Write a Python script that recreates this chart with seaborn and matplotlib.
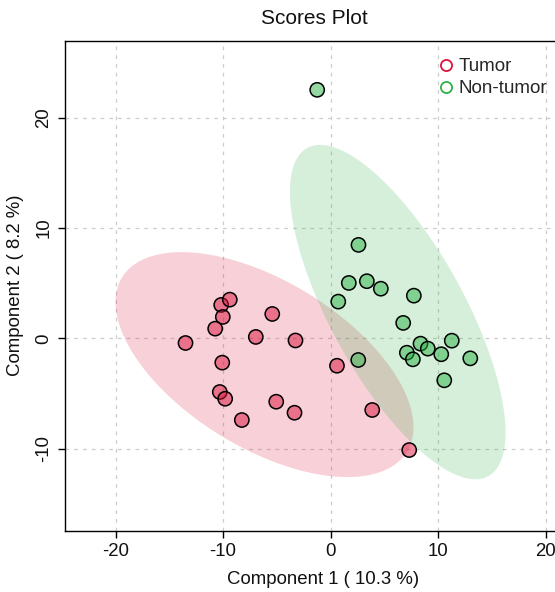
import numpy as np
import pandas as pd
import matplotlib
matplotlib.use("Agg")
import matplotlib.pyplot as plt
import seaborn as sns
from matplotlib.lines import Line2D

# scores
tumor_x = [-13.49, -10.17, -9.37, -10.02, -10.73, -6.95, -5.42, -3.26, -10.07,
           -10.30, -9.80, -8.25, -5.05, -3.35, 0.60, 3.88, 7.32]
tumor_y = [-0.41, 3.04, 3.52, 1.95, 0.89, 0.14, 2.22, -0.18, -2.19,
           -4.85, -5.46, -7.39, -5.73, -6.73, -2.47, -6.48, -10.11]
normal_x = [2.60, 1.70, 3.38, 4.68, 7.75, 0.72, 6.76, 8.37, 9.05,
            11.28, 7.10, 7.66, 10.30, 13.00, 2.58, 10.58, -1.24]
normal_y = [8.48, 5.03, 5.19, 4.51, 3.88, 3.34, 1.41, -0.47, -0.92,
            -0.20, -1.29, -1.89, -1.43, -1.80, -1.95, -3.79, 22.53]

groups = ["Tumor", "Non-tumor"]
group_colors = ["#DC143C", "#2DB246"]
x_ticks = [-20, -10, 0, 10, 20]
y_ticks = [-10, 0, 10, 20]


def conf_ellipse(x, y, chi2=5.991, n=300):
    pts = np.column_stack([x, y])
    mu = pts.mean(axis=0)
    vals, vecs = np.linalg.eigh(np.cov(pts, rowvar=False))
    t = np.linspace(0, 2 * np.pi, n)
    circ = np.column_stack([np.cos(t), np.sin(t)]) * np.sqrt(vals * chi2)
    ell = circ @ vecs.T + mu
    return ell[:, 0], ell[:, 1]


df = pd.DataFrame({
    "pc1": tumor_x + normal_x,
    "pc2": tumor_y + normal_y,
    "group": [groups[0]] * len(tumor_x) + [groups[1]] * len(normal_x),
})

sns.set_theme(style="white")
plt.rcParams["font.family"] = ["Liberation Sans", "DejaVu Sans"]
plt.rcParams["axes.unicode_minus"] = False

fig = plt.figure(figsize=(5.55, 5.92), dpi=100)
W, H = 555, 592
left, right, top, bottom = 65, 581, 40.5, 530.5
ax = fig.add_axes([left / W, 1 - bottom / H, (right - left) / W, (bottom - top) / H])

# confidence ellipses (95%)
for g, col in zip(groups, group_colors):
    sub = df[df["group"] == g]
    ex, ey = conf_ellipse(sub["pc1"].values, sub["pc2"].values)
    ax.fill(ex, ey, color=col, alpha=0.2, linewidth=0, zorder=1)

pal = {g: matplotlib.colors.to_rgba(c, 0.5) for g, c in zip(groups, group_colors)}
sns.scatterplot(data=df, x="pc1", y="pc2", hue="group", palette=pal, s=105,
                edgecolor="black", linewidth=1.1, legend=False, ax=ax, zorder=3)

ax.set_xlim(-24.7, 23.3)
ax.set_ylim(-17.4, 27.0)
ax.set_xticks(x_ticks)
ax.set_yticks(y_ticks)
ax.grid(True, color="#CDCDCD", linestyle=(0, (3, 4)), linewidth=0.9, zorder=0)
ax.set_axisbelow(True)
for s in ax.spines.values():
    s.set_color("black")
    s.set_linewidth(1.0)

ax.tick_params(axis="both", direction="out", length=5, width=1, color="black",
               labelsize=13.4, labelcolor="#111111", pad=4, bottom=True, left=True)
ax.tick_params(axis="y", labelrotation=90)
for lab in ax.get_yticklabels():
    lab.set_va("center")

ax.set_xlabel("Component 1 ( 10.3 %)", fontsize=13.4, color="#111111", labelpad=8)
ax.set_ylabel("Component 2 ( 8.2 %)", fontsize=13.4, color="#111111", labelpad=8)
ax.set_title("Scores Plot", fontsize=15, color="#111111", x=0.484, pad=12)

handles = [Line2D([], [], marker="o", linestyle="none", markerfacecolor="none",
                  markeredgecolor=c, markersize=8, markeredgewidth=1.3)
           for c in group_colors]
ax.legend(handles, groups, loc="upper left",
          bbox_to_anchor=((438 - left) / (right - left), 1 - (58 - top) / (bottom - top)),
          frameon=False, fontsize=13.6, handlelength=0.8, handletextpad=0.3,
          labelspacing=0.25, borderpad=0, borderaxespad=0)

fig.savefig("out.png", dpi=100)
